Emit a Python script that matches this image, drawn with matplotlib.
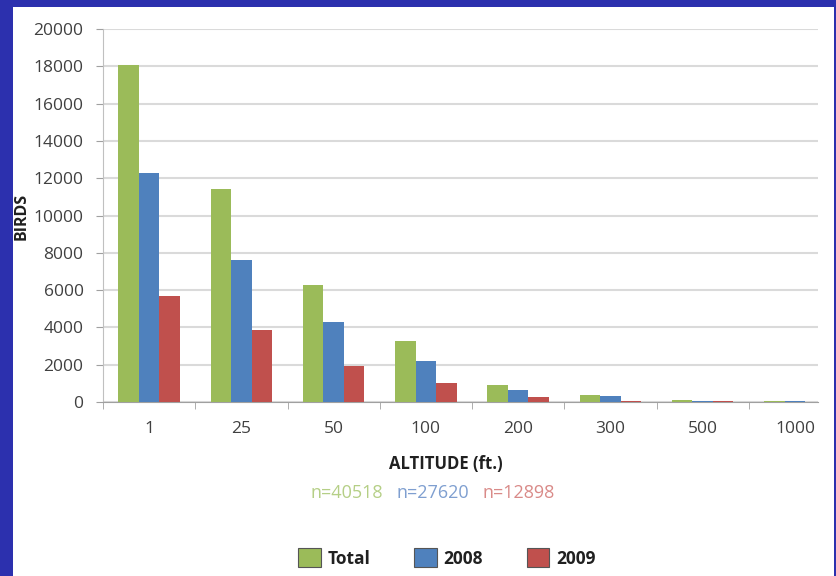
import numpy as np
import matplotlib.pyplot as plt
from matplotlib.patches import Rectangle

altitudes = ['1', '25', '50', '100', '200', '300', '500', '1000']
total = [18050, 11400, 6300, 3250, 900, 350, 100, 50]
y2008 = [12300, 7600, 4300, 2200, 650, 330, 80, 40]
y2009 = [5700, 3850, 1950, 1000, 250, 60, 40, 20]
counts = ['n=40518', 'n=27620', 'n=12898']
series_names = ['Total', '2008', '2009']

green = '#9bbb59'
blue = '#4f81bd'
red = '#c0504d'
txt = '#404040'

plt.rcParams['font.family'] = ['Open Sans', 'DejaVu Sans']

fig = plt.figure(figsize=(8.36, 5.76), dpi=100)
fig.patch.set_facecolor('#2c30ae')
fig.patches.append(Rectangle((13 / 836, 0), (834 - 13) / 836, (576 - 7) / 576,
                             transform=fig.transFigure, facecolor='white',
                             edgecolor='none', zorder=-1))

ax = fig.add_axes([103 / 836, 1 - 402 / 576, (818 - 103) / 836, (402 - 29) / 576])
ax.set_facecolor('none')

x = np.arange(len(altitudes))
w = 0.222
for i, (vals, col, name) in enumerate(zip([total, y2008, y2009], [green, blue, red], series_names)):
    ax.bar(x + (i - 1) * w, vals, w, color=col, label=name, zorder=3)

ax.set_xlim(-0.5, 7.25)
ax.set_ylim(0, 20000)
ax.set_yticks(np.arange(0, 20001, 2000))
ax.yaxis.grid(True, color='#dadada', linewidth=1.5, zorder=0)
ax.set_axisbelow(True)

ax.set_xticks(x)
ax.set_xticklabels(altitudes)
ax.set_xticks(np.arange(-0.5, 7.5, 1), minor=True)
ax.tick_params(axis='x', which='major', length=0, pad=14, labelsize=12.5, labelcolor=txt)
ax.tick_params(axis='x', which='minor', length=5, color='#a0a0a0')
ax.tick_params(axis='y', length=5, color='#a0a0a0', pad=9, labelsize=12.5, labelcolor=txt)

for s in ['top', 'right']:
    ax.spines[s].set_visible(False)
ax.spines['left'].set_color('#c0c0c0')
ax.spines['bottom'].set_color('#a0a0a0')

fig.text(22 / 836, 1 - 216 / 576, 'BIRDS', rotation=90, ha='center', va='center',
         fontsize=11.5, fontweight='bold', color='#202020')
fig.text(446 / 836, 1 - 464 / 576, 'ALTITUDE (ft.)', ha='center', va='center',
         fontsize=12, fontweight='bold', color='#202020')

for label, col, xc in zip(counts, ['#b5cf86', '#7f9fd0', '#d98a88'], [347, 433, 519]):
    fig.text(xc / 836, 1 - 493 / 576, label, ha='center', va='center',
             fontsize=13, color=col)

leg = fig.legend(loc='center', bbox_to_anchor=(447 / 836, 1 - 558 / 576), ncol=3,
                 frameon=False, fontsize=12.5, columnspacing=2.5, handlelength=1.3,
                 handleheight=1.3, handletextpad=0.4)
for h in leg.legend_handles:
    h.set_edgecolor('#555555')
    h.set_linewidth(0.8)
for t in leg.get_texts():
    t.set_color('#202020')
    t.set_fontweight('bold')

fig.savefig('out.png', dpi=100, facecolor=fig.get_facecolor())
